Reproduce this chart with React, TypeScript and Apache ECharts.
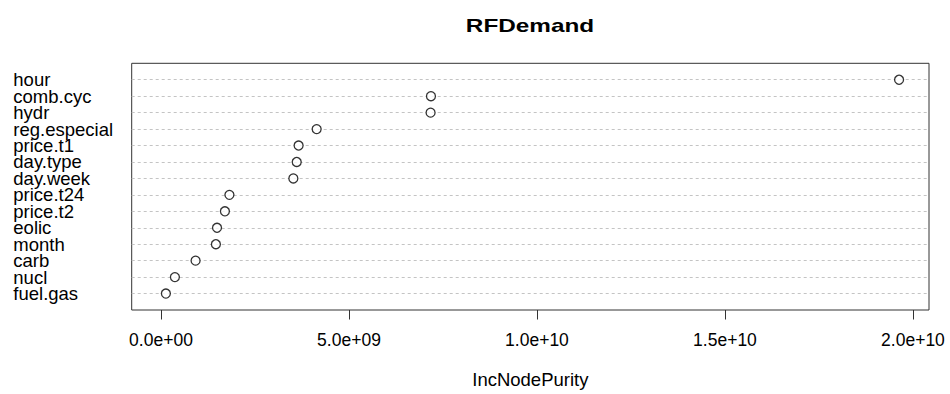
import React, { useEffect, useRef } from "react";
import * as echarts from "echarts";

// Variables, top to bottom as shown in the chart
const variables = [
  "hour",
  "comb.cyc",
  "hydr",
  "reg.especial",
  "price.t1",
  "day.type",
  "day.week",
  "price.t24",
  "price.t2",
  "eolic",
  "month",
  "carb",
  "nucl",
  "fuel.gas",
];

// IncNodePurity values, same order as variables
const incNodePurity = [
  1.963e10, 7.18e9, 7.17e9, 4.14e9, 3.66e9, 3.61e9, 3.52e9, 1.82e9, 1.7e9, 1.49e9,
  1.46e9, 0.92e9, 0.37e9, 0.13e9,
];

const xTicks = [0, 5e9, 1e10, 1.5e10, 2e10];

const fmt = (v: number): string => {
  if (v === 0) return "0.0e+00";
  const e = Math.floor(Math.log10(Math.abs(v)) + 1e-9);
  const m = v / Math.pow(10, e);
  const sign = e < 0 ? "-" : "+";
  return m.toFixed(1) + "e" + sign + String(Math.abs(e)).padStart(2, "0");
};

export default function App() {
  const ref = useRef<HTMLDivElement>(null);

  useEffect(() => {
    if (!ref.current) return;
    const chart = echarts.init(ref.current, undefined, {
      renderer: "svg",
      width: 950,
      height: 394,
    });

    // bottom-to-top category order with empty padding rows at both ends (R dotchart ylim 0..n+1)
    const reversed = [...variables].reverse();
    const yCats = ["", ...reversed, ""];
    const data = variables.map((name, i) => [incNodePurity[i], name]);

    const font = "Liberation Sans, Arial, sans-serif";

    chart.setOption({
      animation: false,
      backgroundColor: "#ffffff",
      graphic: [
        {
          type: "text",
          x: 530,
          y: 25,
          scaleX: 1.28,
          style: {
            text: "RFDemand",
            fontFamily: font,
            fontWeight: "bold",
            fontSize: 19,
            fill: "#000",
            textAlign: "center",
            textVerticalAlign: "middle",
          },
        },
      ],
      grid: {
        left: 131.7,
        right: 21,
        top: 63.3,
        bottom: 77.3,
        show: true,
        borderColor: "#333",
        borderWidth: 1,
        backgroundColor: "transparent",
      },
      xAxis: {
        type: "value",
        min: -7.79e8,
        max: 2.0426e10,
        name: "IncNodePurity",
        nameLocation: "middle",
        nameGap: 60,
        nameTextStyle: { fontFamily: font, fontSize: 18.5, color: "#000" },
        axisLine: { show: false },
        axisTick: {
          show: true,
          customValues: xTicks,
          length: 9.5,
          lineStyle: { color: "#333", width: 1 },
        },
        axisLabel: {
          customValues: xTicks,
          formatter: (v: number) => fmt(v),
          fontFamily: font,
          fontSize: 17.5,
          color: "#000",
          margin: 21,
        },
        splitLine: { show: false },
      },
      yAxis: {
        type: "category",
        data: yCats,
        boundaryGap: false,
        axisLine: { show: false },
        axisTick: { show: false },
        axisLabel: {
          align: "left",
          margin: 118.4,
          fontFamily: font,
          fontSize: 18.5,
          lineHeight: 16,
          color: "#000",
          interval: 0,
        },
        splitLine: {
          show: true,
          showMinLine: false,
          showMaxLine: false,
          lineStyle: { color: "#c4c4c4", type: [3, 3], width: 1 },
        },
      },
      series: [
        {
          type: "scatter",
          data,
          symbol: "circle",
          symbolSize: 9,
          itemStyle: { color: "#ffffff", borderColor: "#000", borderWidth: 1.3 },
          z: 5,
        },
      ],
    });

    return () => chart.dispose();
  }, []);

  return (
    <div
      ref={ref}
      style={{ position: "fixed", left: 0, top: 0, width: 950, height: 394, background: "#fff" }}
    />
  );
}
